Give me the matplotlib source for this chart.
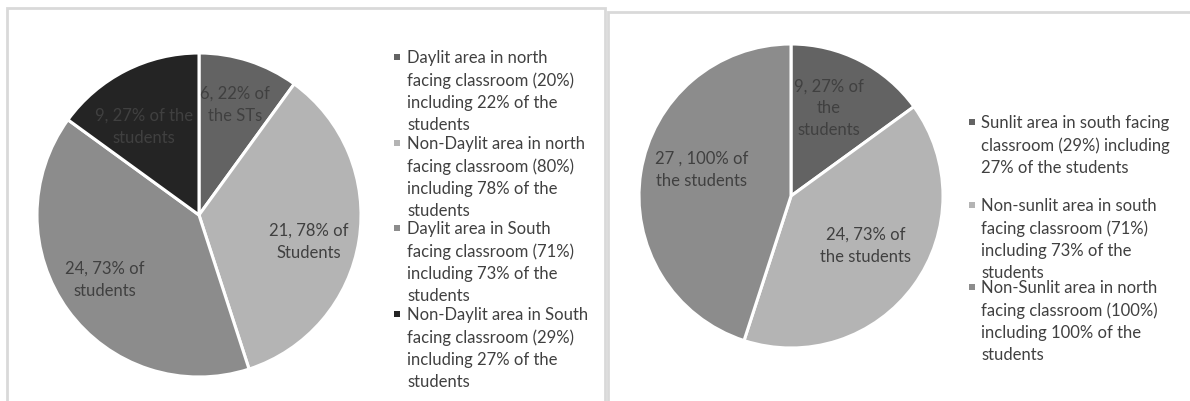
import matplotlib
matplotlib.use("Agg")
import matplotlib.pyplot as plt
from matplotlib.patches import Rectangle

W, H = 1190, 402

# left chart: north / south facing classrooms, daylit split
left_values = [6, 21, 24, 9]
left_colors = ["#636363", "#b4b4b4", "#8c8c8c", "#242424"]
left_slice_text = ["6, 22% of\nthe STs", "21, 78% of\nStudents",
                   "24, 73% of\nstudents", "9, 27% of the\nstudents"]
left_legend = [
    ["Daylit area in north", "facing classroom (20%)", "including 22% of the", "students"],
    ["Non-Daylit area in north", "facing classroom (80%)", "including 78% of the", "students"],
    ["Daylit area in South", "facing classroom (71%)", "including 73% of the", "students"],
    ["Non-Daylit area in South", "facing classroom (29%)", "including 27% of the", "students"],
]

# right chart: sunlit split
right_values = [9, 24, 27]
right_colors = ["#636363", "#b4b4b4", "#8c8c8c"]
right_slice_text = ["9, 27% of\nthe\nstudents", "24, 73% of\nthe students",
                    "27 , 100% of\nthe students"]
right_legend = [
    ["Sunlit area in south facing", "classroom (29%) including", "27% of the students"],
    ["Non-sunlit area in south", "facing classroom (71%)", "including 73% of the", "students"],
    ["Non-Sunlit area in north", "facing classroom (100%)", "including 100% of the", "students"],
]

FONT = "Lato"
FS = 12
TXT = "#404040"


def fx(x):
    return x / W


def fy(y):
    return 1 - y / H


fig = plt.figure(figsize=(W / 100, H / 100), dpi=100)
fig.patch.set_facecolor("white")

# chart frames
fig.add_artist(Rectangle((fx(7), fy(420)), fx(598), (420 - 9) / H, transform=fig.transFigure,
                         fill=False, edgecolor="#d9d9d9", linewidth=2))
fig.add_artist(Rectangle((fx(608), fy(420)), fx(600), (420 - 13) / H, transform=fig.transFigure,
                         fill=False, edgecolor="#d9d9d9", linewidth=2))


def draw_pie(cx, cy, r, values, colors):
    ax = fig.add_axes([fx(cx - r), fy(cy + r), 2 * r / W, 2 * r / H])
    ax.pie(values, colors=colors, startangle=90, counterclock=False,
           wedgeprops=dict(edgecolor="white", linewidth=2.2))
    ax.set_xlim(-1.0, 1.0)
    ax.set_ylim(-1.0, 1.0)
    ax.set_aspect("auto")
    ax.axis("off")
    return ax


def draw_legend(x_mark, x_text, item_y, items, colors, step=22.4):
    for y0, lines, c in zip(item_y, items, colors):
        fig.add_artist(Rectangle((fx(x_mark - 3), fy(y0 + 3)), 6 / W, 6 / H,
                                 transform=fig.transFigure, facecolor=c, edgecolor="none"))
        for i, line in enumerate(lines):
            fig.text(fx(x_text), fy(y0 + i * step), line, ha="left", va="center",
                     fontsize=FS, family=FONT, color=TXT)


def slice_text(pos, labels):
    for (x, y), s in zip(pos, labels):
        fig.text(fx(x), fy(y), s, ha="center", va="center", fontsize=FS,
                 family=FONT, color=TXT, linespacing=1.45)


draw_pie(199, 216, 162, left_values, left_colors)
slice_text([(235, 105), (309, 242), (105, 280), (144, 127)], left_slice_text)
draw_legend(397, 407, [58, 144, 229, 315], left_legend, left_colors)

draw_pie(791, 197, 152, right_values, right_colors)
slice_text([(829, 108), (866, 246), (702, 170)], right_slice_text)
draw_legend(972, 981, [123, 206, 288], right_legend, right_colors)

fig.savefig("out.png", dpi=100)
